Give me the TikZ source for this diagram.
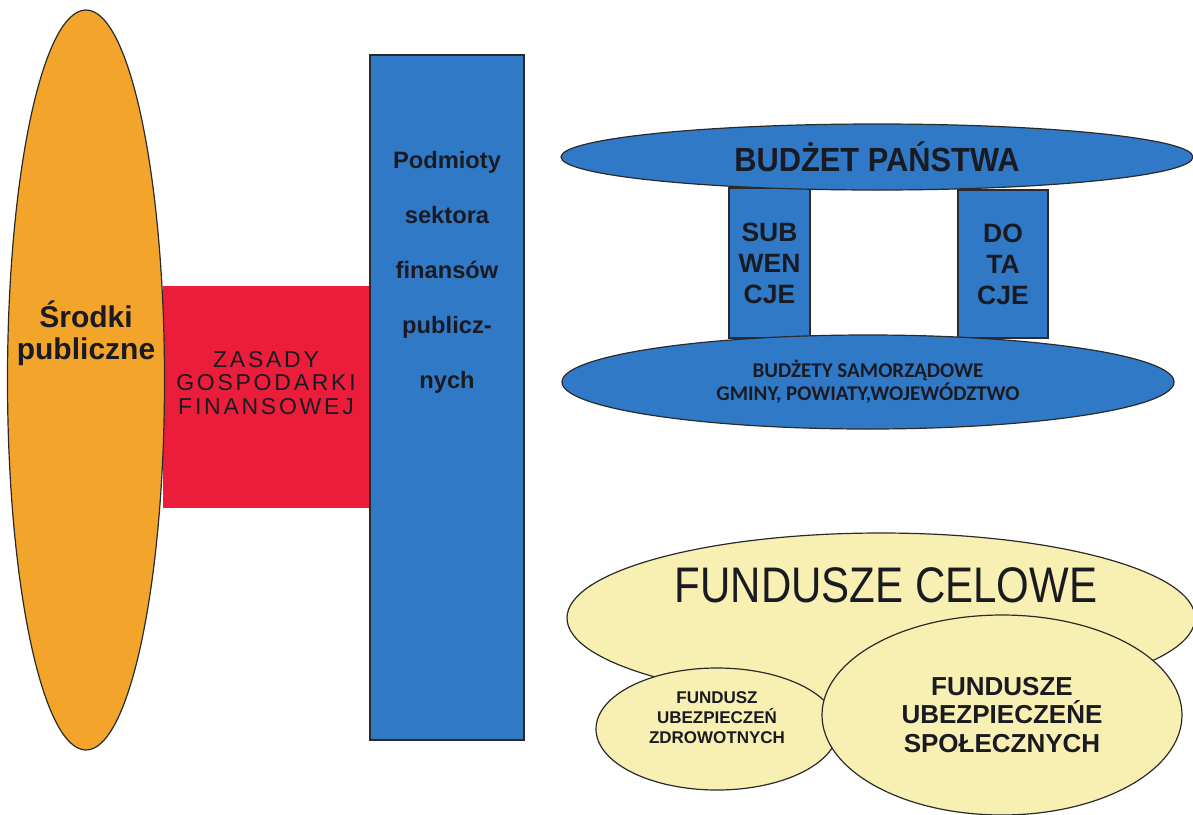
\documentclass[tikz,border=0pt]{standalone}
\usepackage{fontspec}
\setmainfont{Liberation Sans}
\newfontfamily\narrowsans[FakeStretch=0.84]{Liberation Sans}
\newfontfamily\semisans[FakeStretch=0.92]{Liberation Sans}
\newfontfamily\spacedsans[LetterSpace=12]{Liberation Sans}
\newfontfamily\calibsans{Carlito}
\usetikzlibrary{positioning, shapes.geometric}
\definecolor{orangefill}{HTML}{F2A52A}
\definecolor{redfill}{HTML}{EC1D3B}
\definecolor{bluefill}{HTML}{3079C6}
\definecolor{yellowfill}{HTML}{F8F0B2}
\definecolor{outline}{HTML}{2A2A2A}
\definecolor{textdark}{HTML}{1A1A22}

\begin{document}
\begin{tikzpicture}[
    x=0.5pt, y=-0.5pt,
    node distance=0pt,
    shapebase/.style={draw=outline, line width=0.6pt, inner sep=0pt},
    oval/.style={shapebase, ellipse},
    bar/.style={shapebase, rectangle},
    bluebox/.style={bar, fill=bluefill, align=center, text=textdark,
                    font=\bfseries\fontsize{13.25}{15.5}\selectfont},
    blueoval/.style={oval, fill=bluefill, align=center, text=textdark},
    yellowoval/.style={oval, fill=yellowfill, align=center, text=textdark},
    txt/.style={align=center, text=textdark, inner sep=0pt},
]
\useasboundingbox (0,0) rectangle (1193,814);

% ============================================================
% LEFT: public funds, rules, entities
% ============================================================
\node[bar, draw=none, fill=redfill, minimum width=104.5pt, minimum height=111pt] (zasady) at (267.5,397) {};
\node[oval, fill=orangefill, minimum width=78.5pt, minimum height=370pt] (srodki) at (86,380) {};
\node[bar, fill=bluefill, minimum width=77pt, minimum height=342.5pt] (podmioty) at (447,397.5) {};

\node[txt, font=\bfseries\fontsize{15}{16}\selectfont] (srodki-txt) at (86,333)
    {Środki\\publiczne};
\node[txt, font=\spacedsans\fontsize{11.5}{11.75}\selectfont] (zasady-txt) at (266,383)
    {ZASADY\\GOSPODARKI\\FINANSOWEJ};
\node[txt, font=\bfseries\fontsize{11.85}{27.5}\selectfont] (podmioty-txt) at (447,272)
    {Podmioty\\sektora\\finansów\\publicz-\\nych};

% ============================================================
% RIGHT TOP: state budget and local budgets
% ============================================================
\node[bluebox, minimum width=40.5pt, minimum height=75pt] (subwencje) at (769.5,263) {SUB\\WEN\\CJE};
\node[bluebox, minimum width=45pt, minimum height=74pt] (dotacje) at (1003,264) {DO\\TA\\CJE};

\node[blueoval, minimum width=316pt, minimum height=33pt,
      font=\semisans\bfseries\fontsize{16.75}{18}\selectfont] (budzet) at (877,157) {BUDŻET PAŃSTWA};
\node[blueoval, minimum width=306pt, minimum height=47pt,
      font=\calibsans\bfseries\fontsize{10.5}{11.5}\selectfont] (samorzad) at (868,382)
    {BUDŻETY SAMORZĄDOWE\\GMINY, POWIATY,WOJEWÓDZTWO};

% ============================================================
% RIGHT BOTTOM: special-purpose funds
% ============================================================
\node[yellowoval, minimum width=314pt, minimum height=85pt] (celowe) at (881,618) {};
\node[txt, font=\narrowsans\fontsize{25}{26}\selectfont] (celowe-txt) at (886,585) {FUNDUSZE CELOWE};

\node[yellowoval, minimum width=121pt, minimum height=61pt] (zdrowie) at (717,729) {};
\node[txt, font=\bfseries\fontsize{8.5}{10}\selectfont] (zdrowie-txt) at (717,718)
    {FUNDUSZ\\UBEZPIECZEŃ\\ZDROWOTNYCH};

\node[yellowoval, minimum width=180pt, minimum height=100pt,
      font=\bfseries\fontsize{13}{14.25}\selectfont] (spoleczne) at (1002,715)
    {FUNDUSZE\\UBEZPIECZEŃE\\SPOŁECZNYCH};

\end{tikzpicture}
\end{document}
